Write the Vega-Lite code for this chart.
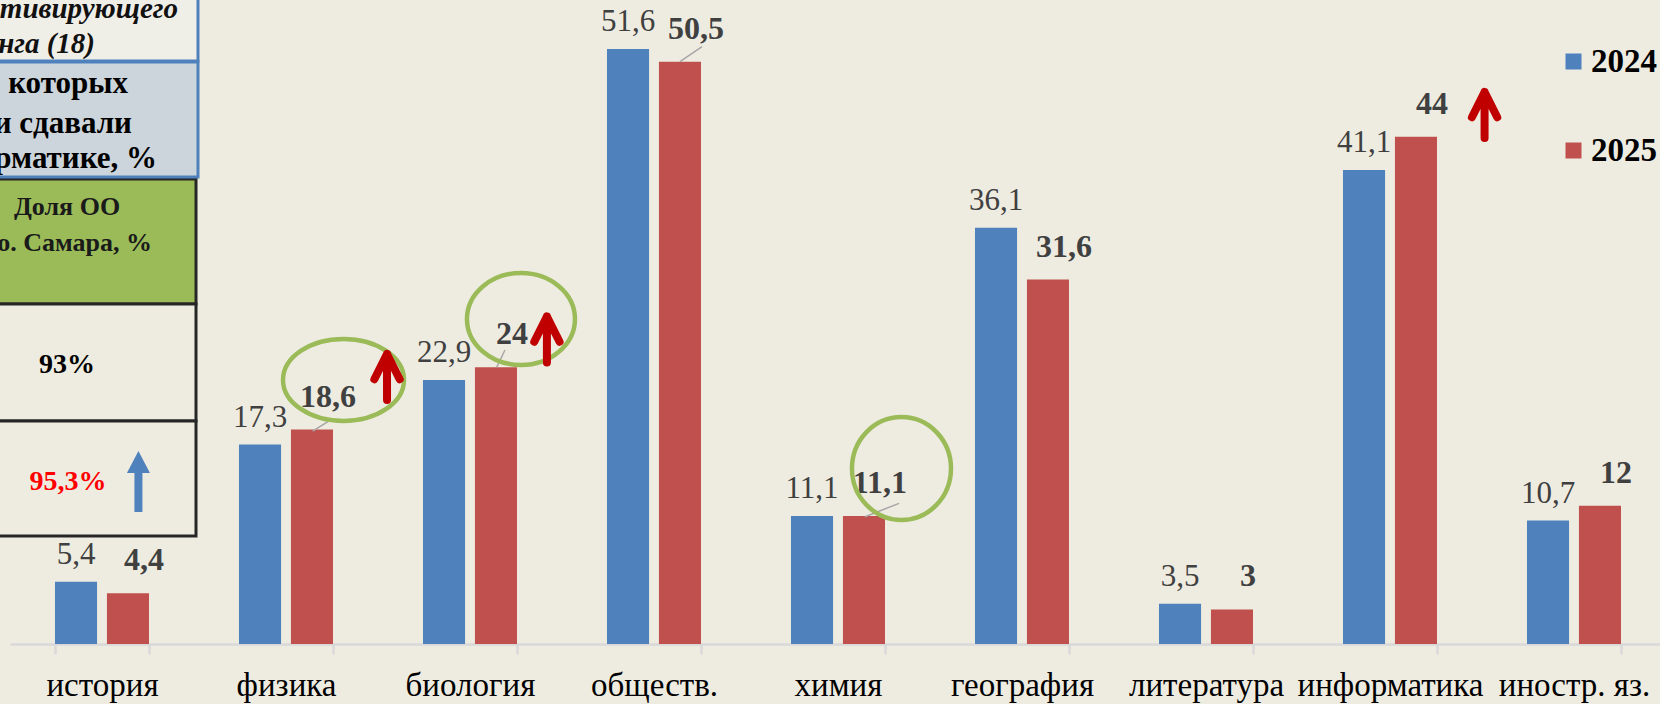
{
  "$schema": "https://vega.github.io/schema/vega-lite/v6.json",
  "width": 1656,
  "height": 644,
  "autosize": {"type": "none"},
  "padding": {"left": 10, "top": 0, "right": 0, "bottom": 60},
  "background": "#EEECE1",
  "config": {"view": {"stroke": null}, "font": "Liberation Serif"},
  "layer": [
    {
      "data": {"values": [
        {"subject": "история", "year": "2024", "value": 5.4},
        {"subject": "история", "year": "2025", "value": 4.4},
        {"subject": "физика", "year": "2024", "value": 17.3},
        {"subject": "физика", "year": "2025", "value": 18.6},
        {"subject": "биология", "year": "2024", "value": 22.9},
        {"subject": "биология", "year": "2025", "value": 24},
        {"subject": "обществ.", "year": "2024", "value": 51.6},
        {"subject": "обществ.", "year": "2025", "value": 50.5},
        {"subject": "химия", "year": "2024", "value": 11.1},
        {"subject": "химия", "year": "2025", "value": 11.1},
        {"subject": "география", "year": "2024", "value": 36.1},
        {"subject": "география", "year": "2025", "value": 31.6},
        {"subject": "литература", "year": "2024", "value": 3.5},
        {"subject": "литература", "year": "2025", "value": 3},
        {"subject": "информатика", "year": "2024", "value": 41.1},
        {"subject": "информатика", "year": "2025", "value": 44},
        {"subject": "иностр. яз.", "year": "2024", "value": 10.7},
        {"subject": "иностр. яз.", "year": "2025", "value": 12}
      ]},
      "transform": [{"calculate": "replace(format(datum.value, '.1~f'), '.', ',')", "as": "label"}],
      "encoding": {
        "x": {"field": "subject", "type": "nominal", "sort": null,
          "scale": {"paddingInner": 0.489, "paddingOuter": 0.2445},
          "axis": {"title": null, "labelFontSize": 33, "labelFont": "Liberation Serif", "labelColor": "#000000", "labelAngle": 0,
            "domainColor": "#D9D9D9", "domainWidth": 2.5, "tickColor": "#D9D9D9", "tickWidth": 2.5, "tickSize": 10,
            "labelPadding": 15, "tickBand": "extent", "labelLimit": 300}},
        "xOffset": {"field": "year", "type": "nominal", "scale": {"domain": ["2024", "2025"], "paddingInner": 0.19, "paddingOuter": 0}},
        "y": {"field": "value", "type": "quantitative", "scale": {"domain": [0, 55.85], "nice": false, "zero": false}, "axis": null}
      },
      "layer": [
        {
          "mark": {"type": "bar"},
          "encoding": {
            "color": {"field": "year", "type": "nominal",
              "scale": {"domain": ["2024", "2025"], "range": ["#4F81BD", "#C0504D"]},
              "legend": {"title": null, "orient": "none", "legendX": 1547, "legendY": 45, "symbolType": "square", "symbolSize": 256,
                "labelFontSize": 33, "labelFontWeight": "bold", "labelFont": "Liberation Serif", "labelColor": "#000000",
                "labelOffset": 1, "rowPadding": 55, "padding": 0, "symbolStrokeWidth": 0, "symbolOpacity": 1, "labelLimit": 200}}
          }
        },
        {
          "transform": [{"filter": "datum.year == '2024'"}],
          "mark": {"type": "text", "baseline": "alphabetic", "dy": -18, "fontSize": 31, "color": "#404040", "font": "Liberation Serif"},
          "encoding": {"text": {"field": "label"}}
        },
        {
          "transform": [{"filter": "datum.year == '2025'"}],
          "mark": {"type": "text", "baseline": "alphabetic", "dx": 16, "dy": -23, "fontSize": 32, "fontWeight": "bold", "color": "#404040", "font": "Liberation Serif"},
          "encoding": {"text": {"field": "label"}}
        }
      ]
    },
    {
      "encoding": {
        "x": {"field": "x", "type": "quantitative", "scale": {"domain": [0, 9], "nice": false, "zero": false}, "axis": null},
        "y": {"field": "y", "type": "quantitative", "scale": {"domain": [0, 55.85], "nice": false, "zero": false}, "axis": null}
      },
      "layer": [
        {
          "data": {"values": [
            {"row": "r3", "x": -0.1, "x2": 1.0109, "y": 40.33, "y2": 29.49},
            {"row": "r4", "x": -0.1, "x2": 1.0109, "y": 29.49, "y2": 19.34},
            {"row": "r5", "x": -0.1, "x2": 1.0109, "y": 19.34, "y2": 9.37},
            {"row": "r1", "x": -0.1, "x2": 1.0217, "y": 56.5, "y2": 50.56},
            {"row": "r2", "x": -0.1, "x2": 1.0217, "y": 50.48, "y2": 40.5}
          ]},
          "mark": {"type": "rect", "strokeWidth": 3, "opacity": 1},
          "encoding": {
            "x2": {"field": "x2"},
            "y2": {"field": "y2"},
            "fill": {"field": "row", "type": "nominal", "legend": null,
              "scale": {"domain": ["r1", "r2", "r3", "r4", "r5"], "range": ["#EFEEE7", "#CDD5DC", "#9BBB59", "#EEECE1", "#EEECE1"]}},
            "stroke": {"field": "row", "type": "nominal", "legend": null,
              "scale": {"domain": ["r1", "r2", "r3", "r4", "r5"], "range": ["#4F81BD", "#4F81BD", "#262626", "#262626", "#262626"]}}
          }
        },
        {
          "data": {"values": [
            {"t": "тивирующего", "x": 0.913, "y": 54.27},
            {"t": "нга (18)", "x": 0.462, "y": 51.26}
          ]},
          "mark": {"type": "text", "align": "right", "baseline": "alphabetic", "fontSize": 29, "fontWeight": "bold", "fontStyle": "italic", "color": "#111111", "font": "Liberation Serif"},
          "encoding": {"text": {"field": "t"}}
        },
        {
          "data": {"values": [
            {"t": "которых", "x": 0.641, "y": 47.79},
            {"t": "и сдавали", "x": 0.663, "y": 44.32},
            {"t": "орматике, %", "x": 0.799, "y": 41.28}
          ]},
          "mark": {"type": "text", "align": "right", "baseline": "alphabetic", "fontSize": 31, "fontWeight": "bold", "color": "#000000", "font": "Liberation Serif"},
          "encoding": {"text": {"field": "t"}}
        },
        {
          "data": {"values": [{"t": "Доля ОО", "x": 0.310, "y": 37.21}]},
          "mark": {"type": "text", "align": "center", "baseline": "alphabetic", "fontSize": 26, "fontWeight": "bold", "color": "#1A1A1A", "font": "Liberation Serif"},
          "encoding": {"text": {"field": "t"}}
        },
        {
          "data": {"values": [{"t": "о. Самара, %", "x": 0.772, "y": 34.11}]},
          "mark": {"type": "text", "align": "right", "baseline": "alphabetic", "fontSize": 26, "fontWeight": "bold", "color": "#1A1A1A", "font": "Liberation Serif"},
          "encoding": {"text": {"field": "t"}}
        },
        {
          "data": {"values": [{"t": "93%", "x": 0.310, "y": 23.50}]},
          "mark": {"type": "text", "align": "center", "baseline": "alphabetic", "fontSize": 28, "fontWeight": "bold", "color": "#000000", "font": "Liberation Serif"},
          "encoding": {"text": {"field": "t"}}
        },
        {
          "data": {"values": [{"t": "95,3%", "x": 0.315, "y": 13.36}]},
          "mark": {"type": "text", "align": "center", "baseline": "alphabetic", "fontSize": 28, "fontWeight": "bold", "color": "#FF0000", "font": "Liberation Serif"},
          "encoding": {"text": {"field": "t"}}
        },
        {
          "data": {"values": [{"x": 0.698, "y": 14.09}]},
          "mark": {"type": "point", "filled": true, "opacity": 1, "color": "#4F81BD", "size": 3721,
            "shape": "M 0 -1 L 0.377 -0.279 L 0.131 -0.279 L 0.131 1 L -0.131 1 L -0.131 -0.279 L -0.377 -0.279 Z"}
        },
        {
          "data": {"values": [
            {"x": 3.641, "x2": 3.761, "y": 50.50, "y2": 51.80},
            {"x": 1.645, "x2": 1.728, "y": 18.47, "y2": 19.28},
            {"x": 2.645, "x2": 2.690, "y": 24.00, "y2": 25.50},
            {"x": 4.647, "x2": 4.832, "y": 11.04, "y2": 12.20}
          ]},
          "mark": {"type": "rule", "color": "#A6A6A6", "strokeWidth": 1.5},
          "encoding": {"x2": {"field": "x2"}, "y2": {"field": "y2"}}
        },
        {
          "data": {"values": [
            {"id": "e1", "x": 1.8125, "y": 22.90},
            {"id": "e2", "x": 2.777, "y": 28.19},
            {"id": "e3", "x": 4.845, "y": 15.22}
          ]},
          "mark": {"type": "point", "filled": false, "opacity": 1, "stroke": "#9BBB59", "strokeWidth": 4.5, "size": 10000},
          "encoding": {
            "shape": {"field": "id", "type": "nominal", "legend": null,
              "scale": {"domain": ["e1", "e2", "e3"], "range": [
                "M 1.21 0 C 1.21 0.453 0.668 0.82 0 0.82 C -0.668 0.82 -1.21 0.453 -1.21 0 C -1.21 -0.453 -0.668 -0.82 0 -0.82 C 0.668 -0.82 1.21 -0.453 1.21 0 Z",
                "M 1.08 0 C 1.08 0.508 0.596 0.92 0 0.92 C -0.596 0.92 -1.08 0.508 -1.08 0 C -1.08 -0.508 -0.596 -0.92 0 -0.92 C 0.596 -0.92 1.08 -0.508 1.08 0 Z",
                "M 0.99 0 C 0.99 0.569 0.547 1.03 0 1.03 C -0.547 1.03 -0.99 0.569 -0.99 0 C -0.99 -0.569 -0.547 -1.03 0 -1.03 C 0.547 -1.03 0.99 -0.569 0.99 0 Z"
              ]}}
          }
        },
        {
          "data": {"values": [
            {"x": 2.049, "y": 23.16},
            {"x": 2.918, "y": 26.41},
            {"x": 8.014, "y": 45.88}
          ]},
          "mark": {"type": "point", "filled": false, "opacity": 1, "stroke": "#C00000", "strokeWidth": 8, "strokeCap": "round", "strokeJoin": "round", "size": 2116,
            "shape": "M 0 1 L 0 -1 M -0.55 0.1 L 0 -1 L 0.55 0.1"}
        }
      ]
    }
  ],
  "resolve": {"scale": {"x": "independent"}, "axis": {"x": "independent"}}
}
